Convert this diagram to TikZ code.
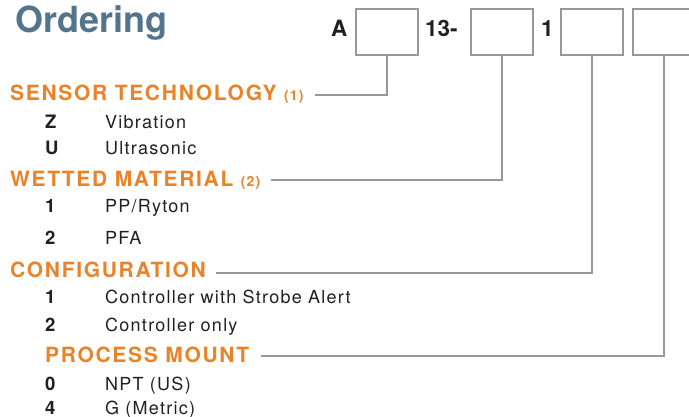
\documentclass[tikz,border=0pt]{standalone}
\usepackage{fontspec}
\setmainfont{TeX Gyre Heros}
\definecolor{ordorange}{RGB}{232,131,40}
\definecolor{ordblue}{RGB}{83,117,139}
\definecolor{ordgray}{RGB}{152,152,156}
\definecolor{ordtext}{RGB}{35,31,32}
\tikzset{
  title/.style={anchor=base west,inner sep=0pt,text=ordblue,font=\fontsize{36}{40}\selectfont\bfseries},
  head/.style={anchor=base west,inner sep=0pt,text=ordorange,font=\fontsize{21}{24}\selectfont\bfseries\addfontfeature{LetterSpace=8}},
  code/.style={anchor=base west,inner sep=0pt,text=ordtext,font=\fontsize{18.5}{20}\selectfont\bfseries\addfontfeature{LetterSpace=5}},
  item/.style={anchor=base west,inner sep=0pt,text=ordtext,font=\fontsize{18}{20}\selectfont\addfontfeature{LetterSpace=7}},
  fixed/.style={anchor=base west,inner sep=0pt,text=ordtext,font=\fontsize{22.5}{26}\selectfont\bfseries},
  slot/.style={draw=ordgray,line width=2pt,minimum width=62pt,minimum height=46pt,inner sep=0pt},
  conn/.style={draw=ordgray,line width=2pt}
}
\newcommand\ordnum[1]{{\fontsize{14}{16}\selectfont#1}}
\begin{document}
\begin{tikzpicture}[x=1pt,y=-1pt]
\useasboundingbox (0,0) rectangle (689,417);
\clip (0,0) rectangle (689,417);
\node[title] (ttl) at (15,33) {Ordering};
% code boxes
\node[fixed] (fa) at (331,37) {A};
\node[slot] (b1) at (387,32) {};
\node[fixed] (f13) at (425,37) {13-};
\node[slot] (b2) at (501.5,32) {};
\node[fixed] (f1) at (541,37) {1};
\node[slot] (b3) at (592,32) {};
\node[slot] (b4) at (664,32) {};
% headings
\node[head] (h1) at (10,101) {SENSOR TECHNOLOGY \ordnum{(1)}};
\node[code] (z) at (45,129) {Z};
\node[item] (zt) at (105,129) {Vibration};
\node[code] (u) at (45,155) {U};
\node[item] (ut) at (105,155) {Ultrasonic};
\node[head] (h2) at (10,187) {WETTED MATERIAL \ordnum{(2)}};
\node[code] (w1) at (45,213) {1};
\node[item] (w1t) at (105,213) {PP/Ryton};
\node[code] (w2) at (45,245) {2};
\node[item] (w2t) at (105,245) {PFA};
\node[head] (h3) at (10,277) {CONFIGURATION};
\node[code] (c1) at (45,304) {1};
\node[item] (c1t) at (105,304) {Controller with Strobe Alert};
\node[code] (c2) at (45,331) {2};
\node[item] (c2t) at (105,331) {Controller only};
\node[head] (h4) at (45,362) {PROCESS MOUNT};
\node[code] (p0) at (45,390) {0};
\node[item] (p0t) at (105,390) {NPT (US)};
\node[code] (p4) at (45,414) {4};
\node[item] (p4t) at (105,414) {G (Metric)};
% connectors
\coordinate (e1) at (315,95);
\coordinate (e2) at (271,180);
\coordinate (e3) at (216,273);
\coordinate (e4) at (261,356);
\draw[conn] (e1) -| (b1.south);
\draw[conn] (e2) -| (b2.south);
\draw[conn] (e3) -| (b3.south);
\draw[conn] (e4) -| (b4.south);
\end{tikzpicture}
\end{document}
